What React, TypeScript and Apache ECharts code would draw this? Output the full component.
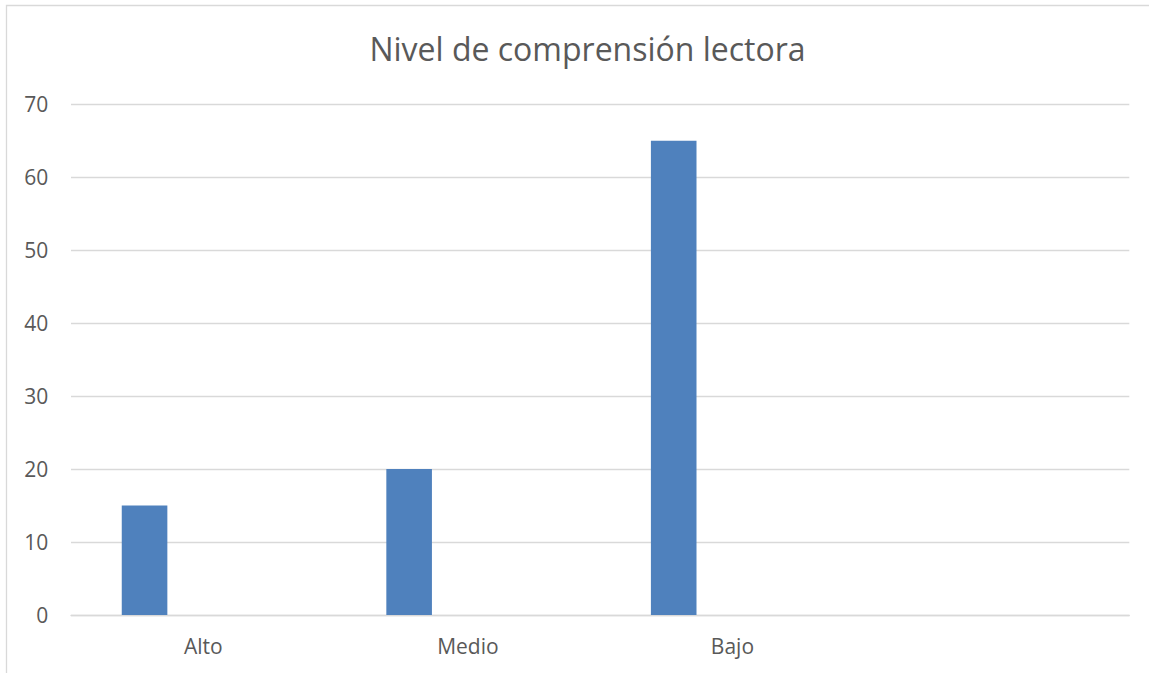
import React, { useEffect, useRef } from "react";
import * as echarts from "echarts";

// Reading-comprehension levels
const categories = ["Alto", "Medio", "Bajo", ""];
const serie1 = [15, 20, 65, null];
const serie2 = [null, null, null, null];
const serie3 = [null, null, null, null];
const yTicks = { min: 0, max: 70, interval: 10 };

const FONT = "'Open Sans', 'Noto Sans', sans-serif";
const TEXT = "#595959";
const GRID = "#d9d9d9";
const BAR = "#4f81bd";

export default function App() {
  const ref = useRef<HTMLDivElement>(null);

  useEffect(() => {
    if (!ref.current) return;
    const chart = echarts.init(ref.current, undefined, { renderer: "svg" });
    const barSeries = (name: string, data: (number | null)[]) => ({
      name,
      type: "bar" as const,
      data,
      barWidth: 45.6,
      barGap: "28.8%",
      itemStyle: { color: BAR },
      silent: true,
    });
    chart.setOption({
      animation: false,
      backgroundColor: "#ffffff",
      textStyle: { fontFamily: FONT },
      title: {
        text: "Nivel de comprensión lectora",
        left: 582.5,
        textAlign: "center",
        top: 27,
        textStyle: {
          fontFamily: FONT,
          fontSize: 32,
          fontWeight: "normal",
          color: TEXT,
        },
      },
      graphic: [
        {
          type: "rect",
          shape: { x: 6.5, y: 5.5, width: 1170, height: 700 },
          style: { fill: "none", stroke: GRID, lineWidth: 1.3 },
          silent: true,
        },
      ],
      grid: { left: 71, right: 19.7, top: 104.3, bottom: 58, containLabel: false },
      xAxis: {
        type: "category",
        data: categories,
        axisLine: { show: true, lineStyle: { color: GRID, width: 1.3 } },
        axisTick: { show: false },
        axisLabel: {
          color: TEXT,
          fontFamily: FONT,
          fontSize: 21,
          margin: 20,
          interval: 0,
        },
        splitLine: { show: false },
      },
      yAxis: {
        type: "value",
        min: yTicks.min,
        max: yTicks.max,
        interval: yTicks.interval,
        axisLine: { show: false },
        axisTick: { show: false },
        axisLabel: {
          color: TEXT,
          fontFamily: FONT,
          fontSize: 21,
          margin: 22.7,
        },
        splitLine: { show: true, lineStyle: { color: GRID, width: 1.3 } },
      },
      series: [
        barSeries("Serie 1", serie1),
        barSeries("Serie 2", serie2),
        barSeries("Serie 3", serie3),
      ],
    });
    return () => chart.dispose();
  }, []);

  return (
    <div
      ref={ref}
      style={{ position: "fixed", left: 0, top: 0, width: 1149, height: 673, background: "#fff" }}
    />
  );
}
